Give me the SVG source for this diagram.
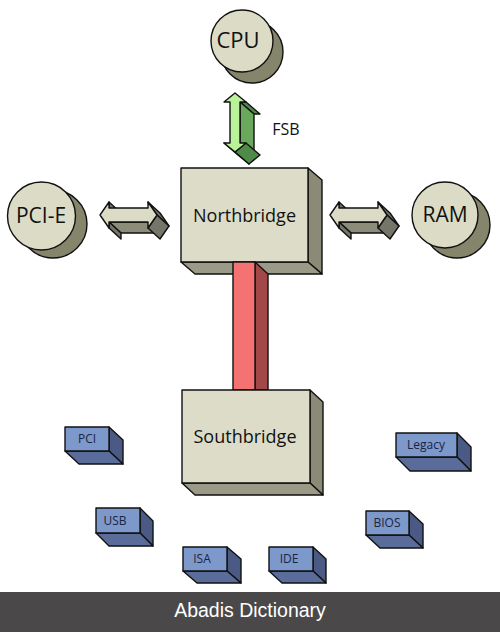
<svg xmlns="http://www.w3.org/2000/svg" width="500" height="632" viewBox="0 0 500 632">
<style>
.s{stroke:#111;stroke-width:1.4;stroke-linejoin:round}
.bf{fill:#dcdcc8}
.bs{fill:#8a8a76}
.bb{fill:#9a9a86}
.cf{fill:#dcdcc6}
.cs{fill:#85856c}
.af{fill:#dcdcc6}
.ab{fill:#8c8c7a}
.ar{fill:#75756a}
.gf{fill:#baf29a}
.gs{fill:#6aa85c}
.gd{fill:#4f8a48}
.uf{fill:#7d98ca}
.us{fill:#4a5a84}
.ub{fill:#5a6c9a}
.t{font-family:"Open Sans","Noto Sans","DejaVu Sans",sans-serif;fill:#111;text-anchor:middle}
.ut{font-family:"Open Sans","Noto Sans","DejaVu Sans",sans-serif;fill:#1b2540;text-anchor:middle;font-size:12px}
</style>
<rect width="500" height="632" fill="#fff"/>

<g id="connectors">
  <g id="fsb">
    <polygon class="s gd" points="246,102 240,102 254,114 260,114"/>
    <polygon class="s gs" points="240,102 240,143 254,155 254,114"/>
    <polygon class="s gd" points="235,152 224,143 238,155 249,164"/>
    <polygon class="s gd" points="246,143 235,152 249,164 260,155"/>
    <polygon class="s gf" points="235,93 246,102 240,102 240,143 246,143 235,152 224,143 230,143 230,102 224,102"/>
  </g>
  <text class="t" x="286" y="135" font-size="16">FSB</text>
  <g id="arrow-pcie">
    <polygon class="s ar" points="109,202 109,208 121,219 121,213"/>
    <polygon class="s ab" points="148,222 109,222 121,233 160,233"/>
    <polygon class="s ar" points="109,222 109,228 121,239 121,233"/>
    <polygon class="s ar" points="148,202 157,215 169,226 160,213"/>
    <polygon class="s ar" points="157,215 148,228 160,239 169,226"/>
    <polygon class="s af" points="100,215 109,202 109,208 148,208 148,202 157,215 148,228 148,222 109,222 109,228"/>
  </g>
  <g id="arrow-ram">
    <polygon class="s ar" points="339,202 339,208 351,219 351,213"/>
    <polygon class="s ab" points="378,222 339,222 351,233 390,233"/>
    <polygon class="s ar" points="339,222 339,228 351,239 351,233"/>
    <polygon class="s ar" points="378,202 387,215 399,226 390,213"/>
    <polygon class="s ar" points="387,215 378,228 390,239 399,226"/>
    <polygon class="s af" points="330,215 339,202 339,208 378,208 378,202 387,215 378,228 378,222 339,222 339,228"/>
  </g>
</g>

<g id="cpu">
  <circle class="s cs" cx="252" cy="52" r="31"/>
  <circle class="s cf" cx="242" cy="41" r="31"/>
  <text class="t" x="238" y="48" font-size="22">CPU</text>
</g>

<g id="pcie">
  <circle class="s cs" cx="53" cy="224" r="34"/>
  <circle class="s cf" cx="41.5" cy="216" r="34"/>
  <text class="t" x="41" y="223" font-size="21">PCI-E</text>
</g>

<g id="ram">
  <circle class="s cs" cx="457" cy="225" r="33"/>
  <circle class="s cf" cx="445" cy="215" r="33"/>
  <text class="t" x="445" y="222" font-size="21">RAM</text>
</g>

<g id="northbridge">
  <polygon class="s bs" points="308,168 322,180 322,274 308,262"/>
  <polygon class="s bb" points="181,262 308,262 322,274 195,274"/>
  <rect class="s bf" x="181" y="168" width="127" height="94"/>
  <text class="t" x="244.5" y="222" font-size="18">Northbridge</text>
</g>

<g id="bus">
  <polygon class="s" fill="#a34848" points="255,262 268,274 268,390 255,390"/>
  <rect class="s" fill="#f47272" x="233" y="262" width="22" height="128"/>
</g>

<g id="southbridge">
  <polygon class="s bs" points="310,390 323,402 323,495 310,483"/>
  <polygon class="s bb" points="182,483 310,483 323,495 195,495"/>
  <rect class="s bf" x="182" y="390" width="128" height="93"/>
  <text class="t" x="245" y="443" font-size="18">Southbridge</text>
</g>

<g id="pci">
  <polygon class="s us" points="109,427 123,440 123,464 109,451"/>
  <polygon class="s ub" points="65,451 109,451 123,464 79,464"/>
  <rect class="s uf" x="65" y="427" width="44" height="24"/>
  <text class="ut" x="87" y="443">PCI</text>
</g>

<g id="usb">
  <polygon class="s us" points="140,508 153,521 153,546 140,533"/>
  <polygon class="s ub" points="96,533 140,533 153,546 109,546"/>
  <rect class="s uf" x="96" y="508" width="44" height="25"/>
  <text class="ut" x="115" y="525">USB</text>
</g>

<g id="isa">
  <polygon class="s us" points="227,547 241,559 241,583 227,571"/>
  <polygon class="s ub" points="183,571 227,571 241,583 197,583"/>
  <rect class="s uf" x="183" y="547" width="44" height="24"/>
  <text class="ut" x="202" y="563">ISA</text>
</g>

<g id="ide">
  <polygon class="s us" points="313,547 326,559 326,583 313,571"/>
  <polygon class="s ub" points="269,571 313,571 326,583 282,583"/>
  <rect class="s uf" x="269" y="547" width="44" height="24"/>
  <text class="ut" x="289" y="563">IDE</text>
</g>

<g id="legacy">
  <polygon class="s us" points="457,433 471,447 471,471 457,457"/>
  <polygon class="s ub" points="396,457 457,457 471,471 410,471"/>
  <rect class="s uf" x="396" y="433" width="61" height="24"/>
  <text class="ut" x="426" y="449">Legacy</text>
</g>

<g id="bios">
  <polygon class="s us" points="409,511 423,524 423,548 409,535"/>
  <polygon class="s ub" points="366,535 409,535 423,548 380,548"/>
  <rect class="s uf" x="366" y="511" width="43" height="24"/>
  <text class="ut" x="387" y="527">BIOS</text>
</g>

<g id="footer">
  <rect x="0" y="592" width="500" height="40" fill="#4b4849"/>
  <text x="250" y="617" font-family="Liberation Sans, Arial, sans-serif" font-size="19.5" fill="#fff" text-anchor="middle">Abadis Dictionary</text>
</g>
</svg>
